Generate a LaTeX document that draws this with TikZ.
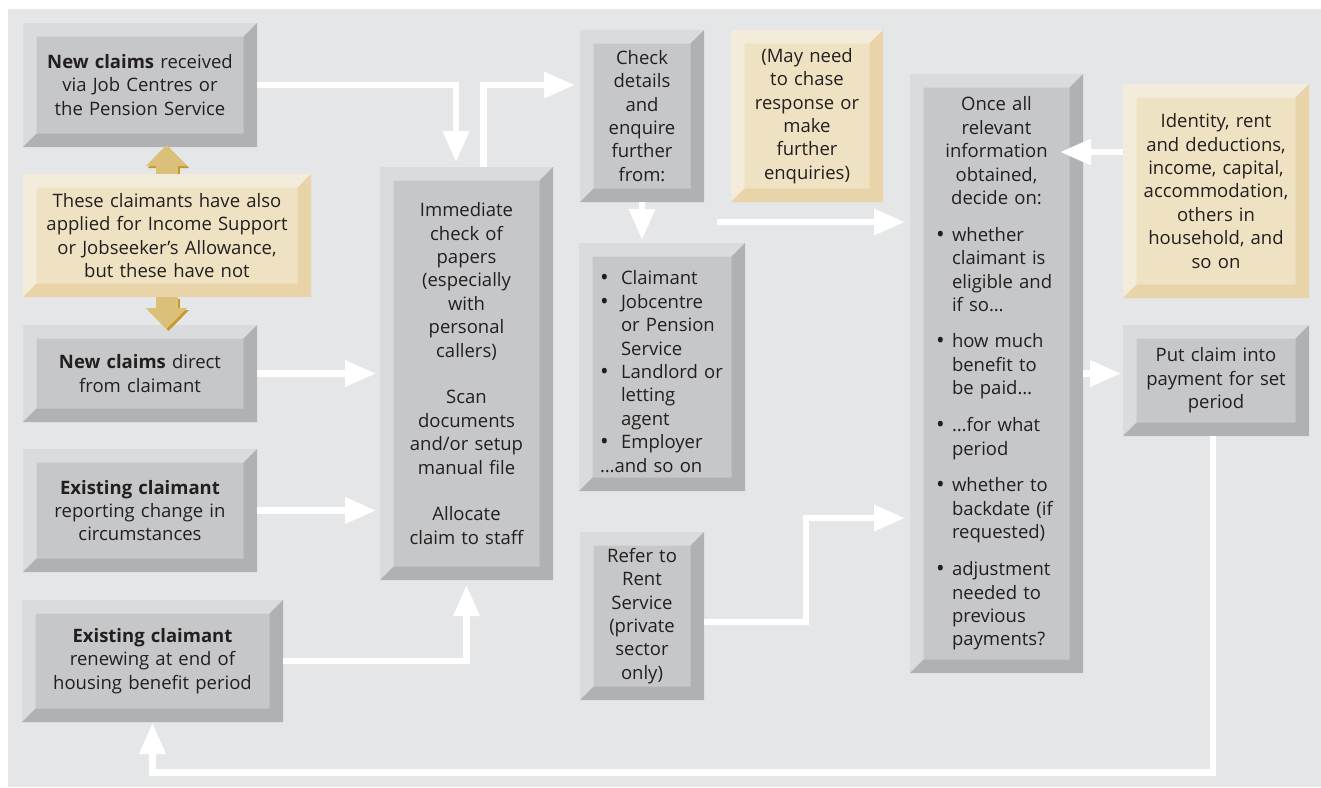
\documentclass[tikz,border=0pt]{standalone}
\usepackage{fontspec}
\setmainfont{Open Sans}
\usetikzlibrary{arrows.meta,calc}
\definecolor{panel}{HTML}{E5E6E8}
\definecolor{gface}{HTML}{C6C7C9}
\definecolor{glight}{HTML}{DADBDD}
\definecolor{gdark}{HTML}{B0B1B3}
\definecolor{tface}{HTML}{EFE2C2}
\definecolor{tlight}{HTML}{F4ECDA}
\definecolor{tdark}{HTML}{E8D4A8}
\definecolor{tanA}{HTML}{DBC07A}
\definecolor{tanD}{HTML}{C49A2A}
\definecolor{textc}{HTML}{231F20}
\newlength\bulw
\newcommand\bulglyph{\raisebox{-1pt}{\fontsize{23}{23}\selectfont •}}
\newcommand\itm[1]{\par\hangindent=\bulw\hangafter=1\noindent\makebox[\bulw][l]{\bulglyph}#1\par}
\newcommand\fs{\fontsize{18.5}{23.4}\selectfont}
\tikzset{
  bevel/.style n args={3}{fill=#1, path picture={
    \coordinate (NW) at (path picture bounding box.north west);
    \coordinate (NE) at (path picture bounding box.north east);
    \coordinate (SW) at (path picture bounding box.south west);
    \coordinate (SE) at (path picture bounding box.south east);
    \fill[#2] (NW) -- (NE) -- ([shift={(-13.5pt,-13.5pt)}]NE) -- ([shift={(13.5pt,-13.5pt)}]NW)
      -- ([shift={(13.5pt,13.5pt)}]SW) -- (SW) -- cycle;
    \fill[#3] (SE) -- (NE) -- ([shift={(-13.5pt,-13.5pt)}]NE) -- ([shift={(-13.5pt,13.5pt)}]SE)
      -- ([shift={(13.5pt,13.5pt)}]SW) -- (SW) -- cycle;
  }},
  basebox/.style={rectangle, inner sep=0pt, outer sep=0pt, align=center, font=\fs, text=textc},
  gbox/.style={basebox, bevel={gface}{glight}{gdark}},
  tbox/.style={basebox, bevel={tface}{tlight}{tdark}},
  warrow/.style={draw=white, line width=6.5pt, line join=miter, -{Triangle[length=31pt,width=25pt]}},
  tanarr/.style={draw=tanA, line width=22pt, -{Triangle[length=21pt,width=40pt]}},
}
\begin{document}
\begin{tikzpicture}[x=1pt,y=-1pt]
\useasboundingbox (0,0) rectangle (1321,787);
\fill[white] (0,0) rectangle (1321,787);
\fill[panel] (8,9) rectangle (1321,787);

% left column
\node[gbox, minimum width=234pt, minimum height=124pt, text width=205pt] (nc1) at (140,85)
  {\textbf{New claims} received\\via Job Centres or\\the Pension Service};
\node[tbox, minimum width=288pt, minimum height=123pt, text width=262pt] (tan1) at (167,235.5)
  {These claimants have also\\applied for Income Support\\or Jobseeker’s Allowance,\\but these have not};
\node[gbox, minimum width=234pt, minimum height=97pt, text width=205pt] (nc2) at (140,373.5)
  {\textbf{New claims} direct\\from claimant};
\node[gbox, minimum width=234pt, minimum height=123pt, text width=205pt] (ex1) at (140,510.5)
  {\textbf{Existing claimant}\\reporting change in\\circumstances};
\node[gbox, minimum width=261pt, minimum height=122pt, text width=232pt] (ex2) at (152.5,661)
  {\textbf{Existing claimant}\\renewing at end of\\housing benefit period};

% second column
\node[gbox, minimum width=173pt, minimum height=413pt, text width=146pt] (imm) at (466.5,373.5)
  {Immediate\\check of\\papers\\(especially\\with\\personal\\callers)\\[23.4pt]Scan\\documents\\and/or setup\\manual file\\[23.4pt]Allocate\\claim to staff};

% third column
\node[gbox, minimum width=124pt, minimum height=172pt, text width=100pt] (chk) at (642,116)
  {Check\\details\\and\\enquire\\further\\from:};
\node[tbox, minimum width=152pt, minimum height=172pt, text width=126pt] (may) at (807,116)
  {(May need\\to chase\\response or\\make\\further\\enquiries)};
\node[gbox, minimum width=166pt, minimum height=248pt, text width=124pt, align=left] (lst) at (662,367)
  {\setlength\bulw{21pt}\itm{Claimant}\itm{Jobcentre\newline or Pension\newline Service}\itm{Landlord or\newline letting\newline agent}\itm{Employer}\noindent…and so on};
\node[gbox, minimum width=124pt, minimum height=168pt, text width=100pt] (ref) at (642,616)
  {Refer to\\Rent\\Service\\(private\\sector\\only)};

% decision column
\node[gbox, minimum width=173pt, minimum height=599pt, text width=121pt, align=left] (dec) at (996.5,373.5)
  {\setlength\bulw{16pt}{\centering Once all\\relevant\\information\\obtained,\\decide on:\par}
   \vspace{13.5pt}\itm{whether\newline claimant is\newline eligible and\newline if so…}
   \vspace{13pt}\itm{how much\newline benefit to\newline be paid…}
   \vspace{13.5pt}\itm{…for what\newline period}
   \vspace{13.5pt}\itm{whether to\newline backdate (if\newline requested)}
   \vspace{13.5pt}\itm{adjustment\newline needed to\newline previous\newline payments?}};

% right column
\node[tbox, minimum width=186pt, minimum height=214pt, text width=160pt] (idt) at (1216,191)
  {Identity, rent\\and deductions,\\income, capital,\\accommodation,\\others in\\household, and\\so on};
\node[gbox, minimum width=186pt, minimum height=111pt, text width=160pt] (put) at (1216,380.5)
  {Put claim into\\payment for set\\period};

% tan arrows
\draw[tanarr, draw=tanD, transform canvas={xshift=2pt,yshift=-2pt}, shorten <=2pt, shorten >=-2pt] ([xshift=-0.5pt]tan1.north) -- ([xshift=-0.5pt]tan1.north |- nc1.south);
\draw[tanarr, shorten >=-2pt] ([xshift=-0.5pt]tan1.north) -- ([xshift=-0.5pt]tan1.north |- nc1.south);
\draw[tanarr, draw=tanD, transform canvas={xshift=2pt,yshift=-2pt}, shorten >=-4pt] ([xshift=-0.5pt]tan1.south) -- ([xshift=-0.5pt]tan1.south |- nc2.north);
\draw[tanarr, shorten >=-4pt] ([xshift=-0.5pt]tan1.south) -- ([xshift=-0.5pt]tan1.south |- nc2.north);

% white connectors
\draw[warrow, shorten >=5pt] (nc1.east) -| ([xshift=-10.5pt]imm.north);
\draw[warrow, shorten >=5pt] ([xshift=17pt]imm.north) |- ([yshift=31pt]chk.west);
\draw[warrow, shorten >=3pt] (chk.south) -- (chk.south |- lst.north);
\coordinate (dstart) at (717,222);
\draw[warrow, shorten >=5pt] (dstart) -- (dstart -| dec.west);
\draw[warrow, shorten >=4pt] (nc2.east) -- (nc2.east -| imm.west);
\draw[warrow, shorten >=4pt] (ex1.east) -- (ex1.east -| imm.west);
\draw[warrow, shorten >=5pt] (ex2.east) -| (imm.south);
\draw[warrow, shorten >=5pt] ([yshift=-6pt]ref.east) -- ++(102,0) |- ([yshift=-144.5pt]dec.west);
\draw[warrow] ([yshift=39pt]idt.west) -- ++(-63,0);
\draw[warrow, shorten >=2pt] (dec.east) -- (dec.east -| put.west);
\draw[warrow, shorten >=1pt] ([xshift=-3pt]put.south) -- ++(0,336.5) -| (ex2.south);
\end{tikzpicture}
\end{document}
